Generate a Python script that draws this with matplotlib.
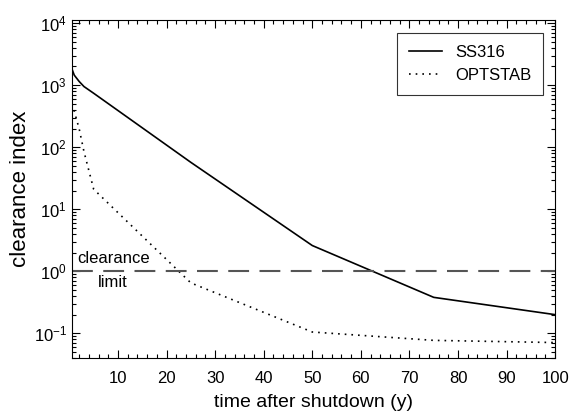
import matplotlib
matplotlib.use("Agg")
import matplotlib.pyplot as plt
from matplotlib.ticker import MultipleLocator, LogLocator, NullFormatter

plt.rcParams['font.family'] = ['Liberation Sans', 'DejaVu Sans']
plt.rcParams['mathtext.fontset'] = 'custom'
plt.rcParams['mathtext.rm'] = 'Liberation Sans'
plt.rcParams['mathtext.it'] = 'Liberation Sans'
plt.rcParams['axes.unicode_minus'] = False

# data
t_ss316 = [0.5, 1, 2, 3, 5, 10, 25, 50, 75, 100]
ss316 = [1850, 1450, 1150, 950, 740, 390, 57, 2.6, 0.38, 0.2]

t_optstab = [0.5, 1, 2, 3, 5, 25, 50, 75, 100]
optstab = [500, 380, 200, 85, 21, 0.65, 0.105, 0.077, 0.071]

clearance_limit = 1.0

fig = plt.figure(figsize=(5.7, 4.18), dpi=100)
ax = fig.add_axes([0.126, 0.1435, 0.848, 0.8085])

ax.plot(t_ss316, ss316, color='black', lw=1.2, label='SS316')
ax.plot(t_optstab, optstab, color='black', lw=1.2, ls=(0, (1, 3)), label='OPTSTAB')
ax.axhline(clearance_limit, color='#555555', lw=1.5, ls=(0, (10, 5)))

ax.text(9, 1.22, 'clearance', ha='center', va='bottom', fontsize=12)
ax.text(9, 0.86, 'limit', ha='center', va='top', fontsize=12)

ax.set_yscale('log')
ax.set_xlim(0.5, 100)
ax.set_ylim(0.04, 1.12e4)
ax.xaxis.set_major_locator(MultipleLocator(10))
ax.xaxis.set_minor_locator(MultipleLocator(2))
ax.yaxis.set_major_locator(LogLocator(base=10, numticks=10))
ax.yaxis.set_minor_locator(LogLocator(base=10, subs=range(2, 10), numticks=10))
ax.yaxis.set_minor_formatter(NullFormatter())

ax.tick_params(which='both', direction='in', top=True, right=True, labelsize=12, width=0.8)
ax.tick_params(which='major', length=6)
ax.tick_params(which='minor', length=3)
ax.tick_params(axis='x', pad=9)

ax.set_xlabel('time after shutdown (y)', fontsize=14, labelpad=6)
ax.set_ylabel('clearance index', fontsize=16, labelpad=2)

leg = ax.legend(loc='upper right', fontsize=12, frameon=True, fancybox=False,
                edgecolor='black', handlelength=2.0, borderpad=0.7,
                borderaxespad=0, bbox_to_anchor=(0.975, 0.962))
leg.get_frame().set_linewidth(0.8)

fig.savefig('out.png', dpi=100)
